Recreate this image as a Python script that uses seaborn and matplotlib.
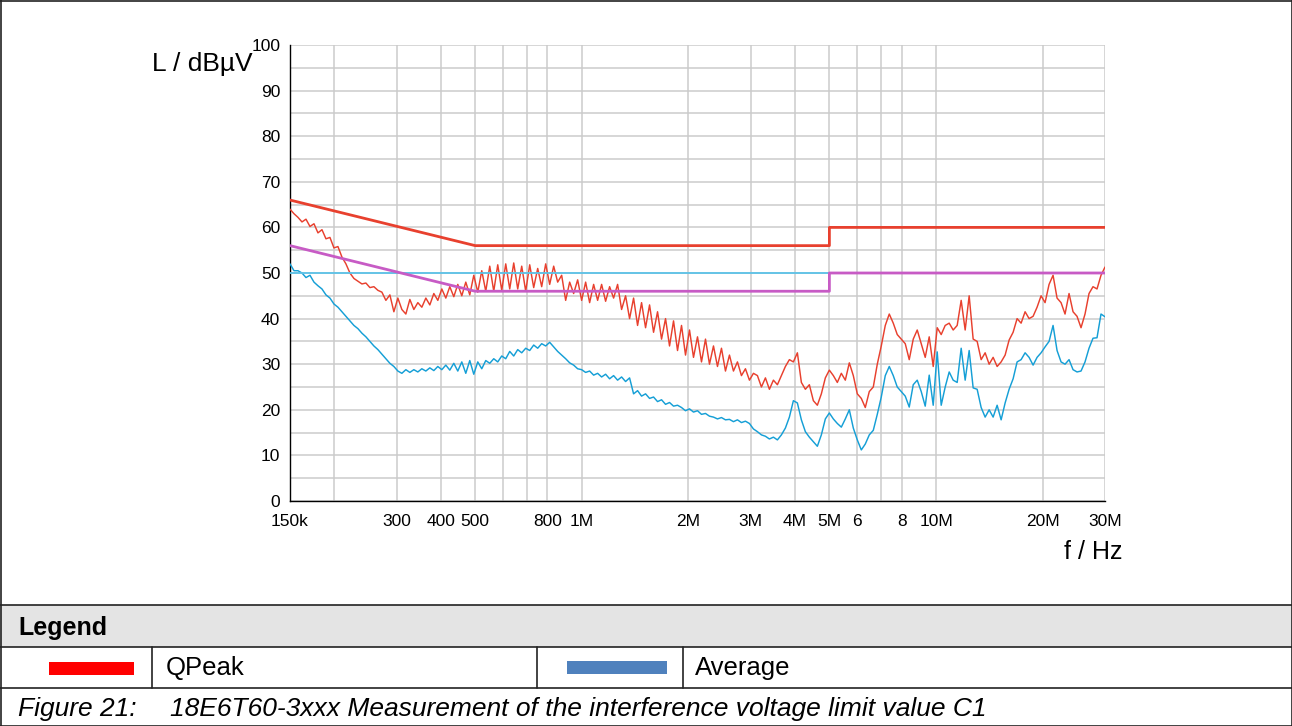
import numpy as np
import pandas as pd
import matplotlib
matplotlib.use("Agg")
import matplotlib.pyplot as plt
from matplotlib.lines import Line2D
from matplotlib.patches import Rectangle
from matplotlib.ticker import FixedLocator, MultipleLocator, NullLocator
import seaborn as sns

# ---------------------------------------------------------------------------
# Receiver sweep: 150 kHz .. 30 MHz, log-spaced measurement points
# ---------------------------------------------------------------------------
F_START_MHZ = 0.15
F_STOP_MHZ = 30.0
N_POINTS = 205

# Quasi-peak detector reading, dBuV
qpeak_dbuv = [
    64.0, 63.0, 62.2, 61.2, 61.8, 60.2, 60.8, 58.8, 59.5, 57.5,
    57.8, 55.5, 55.8, 53.5, 52.0, 50.0, 48.8, 48.2, 47.6, 47.8,
    46.8, 47.0, 46.2, 45.8, 44.0, 45.2, 41.5, 44.5, 42.0, 41.0,
    44.2, 42.0, 43.5, 42.5, 44.5, 43.0, 45.5, 44.0, 46.5, 44.5,
    47.0, 44.8, 47.5, 45.0, 48.0, 45.2, 49.5, 45.8, 50.5, 46.0,
    51.5, 46.0, 51.8, 46.2, 52.0, 46.5, 52.2, 46.5, 51.5, 46.0,
    51.8, 46.8, 51.0, 47.0, 52.0, 47.5, 51.5, 48.0, 49.5, 44.0,
    48.0, 45.5, 48.5, 44.0, 48.0, 43.5, 47.5, 44.0, 47.5, 43.8,
    47.0, 44.5, 47.5, 42.0, 45.0, 40.0, 44.5, 38.5, 43.5, 38.0,
    43.0, 37.0, 41.5, 35.5, 40.0, 34.0, 39.5, 33.0, 38.5, 32.0,
    37.5, 31.5, 36.0, 30.5, 35.5, 30.0, 34.0, 29.5, 33.5, 28.5,
    32.0, 28.5, 30.5, 27.5, 29.0, 26.5, 28.0, 27.5, 25.0, 27.0,
    24.5, 26.5, 25.5, 27.5, 29.5, 31.0, 30.5, 32.5, 26.0, 24.5,
    25.5, 22.0, 21.0, 23.5, 27.0, 28.7, 27.5, 26.0, 28.0, 26.5,
    30.3, 27.5, 23.5, 22.5, 20.5, 24.0, 25.0, 30.0, 34.0, 38.5,
    41.0, 39.0, 36.5, 35.5, 34.5, 31.0, 35.5, 37.5, 34.5, 31.5,
    36.0, 29.5, 38.0, 36.5, 38.5, 39.0, 37.5, 38.5, 44.0, 37.5,
    45.0, 35.5, 35.0, 31.0, 32.5, 30.0, 31.5, 29.5, 30.5, 32.0,
    35.3, 37.0, 40.0, 39.0, 41.5, 40.0, 40.5, 42.5, 45.0, 43.5,
    47.5, 49.5, 44.5, 43.5, 41.0, 45.5, 41.5, 40.5, 38.0, 41.0,
    45.5, 47.0, 46.5, 49.5, 51.3,
]

# Average detector reading, dBuV
average_dbuv = [
    52.0, 50.5, 50.5, 50.0, 49.0, 49.5, 48.0, 47.2, 46.5, 45.2,
    44.5, 43.2, 42.5, 41.5, 40.5, 39.5, 38.5, 37.8, 36.8, 36.0,
    35.0, 34.0, 33.2, 32.2, 31.2, 30.2, 29.5, 28.5, 28.0, 28.8,
    28.2, 28.8, 28.3, 29.0, 28.5, 29.2, 28.6, 29.5, 28.8, 29.8,
    28.7, 30.2, 28.5, 30.5, 28.0, 30.8, 27.8, 30.5, 29.0, 30.8,
    30.2, 31.2, 30.5, 31.8, 31.2, 32.8, 31.8, 33.2, 32.5, 33.5,
    33.0, 34.2, 33.5, 34.5, 34.0, 34.8, 33.8, 32.8, 32.0, 31.2,
    30.3, 29.8, 29.0, 28.8, 28.2, 28.5, 27.6, 28.0, 27.2, 27.8,
    26.8, 27.5, 26.5, 27.2, 26.2, 27.0, 23.5, 24.2, 23.0, 23.5,
    22.5, 22.8, 21.8, 22.2, 21.2, 21.6, 20.8, 21.0, 20.5, 19.8,
    20.2, 19.5, 19.8, 19.0, 19.2, 18.6, 18.4, 18.0, 18.3, 17.8,
    17.9, 17.4, 17.8, 17.2, 17.5, 17.0, 15.8, 15.2, 14.5, 14.2,
    13.6, 14.0, 13.4, 14.5, 16.0, 18.4, 22.0, 21.5, 17.8, 15.2,
    14.0, 13.0, 12.0, 14.5, 18.0, 19.3, 18.0, 17.0, 16.2, 18.0,
    20.0, 16.0, 13.4, 11.2, 12.5, 14.5, 15.5, 19.0, 22.8, 27.5,
    29.5, 27.5, 25.0, 24.0, 23.0, 20.6, 25.5, 26.5, 24.0, 20.8,
    27.6, 21.0, 32.7, 21.0, 25.0, 28.3, 26.5, 26.0, 33.5, 26.5,
    33.0, 24.8, 24.5, 20.5, 18.4, 20.0, 18.4, 21.0, 17.8, 21.5,
    24.5, 26.8, 30.5, 31.0, 32.5, 31.5, 29.8, 31.5, 32.5, 33.8,
    35.0, 38.5, 33.0, 30.5, 30.0, 31.0, 28.8, 28.3, 28.5, 30.5,
    33.5, 35.7, 35.8, 41.0, 40.4,
]

# Limit lines, frequency in MHz
limit_f_mhz = [0.15, 0.5, 5.0, 5.0, 30.0]
limit_qpeak_dbuv = [66, 56, 56, 60, 60]
limit_avg_dbuv = [56, 46, 46, 50, 50]
ref_f_mhz = [0.15, 30.0]
ref_level_dbuv = [50, 50]

xtick_mhz = [0.15, 0.2, 0.3, 0.4, 0.5, 0.6, 0.7, 0.8, 1, 2, 3, 4, 5, 6, 7, 8, 10, 20, 30]
xtick_labels = ["150k", "", "300", "400", "500", "", "", "800", "1M", "2M",
                "3M", "4M", "5M", "6", "", "8", "10M", "20M", "30M"]

legend_labels = ["QPeak", "Average"]
legend_colors = ["#ff0000", "#4f81bd"]
caption_number = "Figure 21:"
caption_text = "18E6T60-3xxx Measurement of the interference voltage limit value C1"

# ---------------------------------------------------------------------------
sns.set_style("white")
plt.rcParams["font.family"] = ["Liberation Sans", "DejaVu Sans"]
plt.rcParams["text.color"] = "black"

W, H = 1292, 726
fig = plt.figure(figsize=(W / 100, H / 100), dpi=100)


def fx(x):
    return x / W


def fy(y):
    return 1 - y / H


ax = fig.add_axes([fx(290), fy(501), fx(1105) - fx(290), fy(45) - fy(501)])
ax.set_xscale("log")

sweep = pd.DataFrame({
    "f_mhz": np.geomspace(F_START_MHZ, F_STOP_MHZ, N_POINTS),
    "qpeak": qpeak_dbuv,
    "average": average_dbuv,
})
limits = pd.DataFrame({"f_mhz": limit_f_mhz, "qp": limit_qpeak_dbuv, "av": limit_avg_dbuv})
ref = pd.DataFrame({"f_mhz": ref_f_mhz, "level": ref_level_dbuv})

sns.lineplot(data=sweep, x="f_mhz", y="average", ax=ax, color="#159fd6",
             lw=1.05, estimator=None, sort=False, zorder=3)
sns.lineplot(data=sweep, x="f_mhz", y="qpeak", ax=ax, color="#e8402e",
             lw=1.05, estimator=None, sort=False, zorder=3)
sns.lineplot(data=ref, x="f_mhz", y="level", ax=ax, color="#5cc3e8",
             lw=1.3, estimator=None, sort=False, zorder=4)
sns.lineplot(data=limits, x="f_mhz", y="av", ax=ax, color="#c75bc5",
             lw=2.0, estimator=None, sort=False, zorder=5)
sns.lineplot(data=limits, x="f_mhz", y="qp", ax=ax, color="#e8402e",
             lw=2.0, estimator=None, sort=False, zorder=5)

ax.set_xlim(F_START_MHZ, F_STOP_MHZ)
ax.set_ylim(0, 100)
ax.xaxis.set_major_locator(FixedLocator(xtick_mhz))
ax.set_xticklabels(xtick_labels)
ax.xaxis.set_minor_locator(NullLocator())
ax.yaxis.set_major_locator(MultipleLocator(10))
ax.yaxis.set_minor_locator(MultipleLocator(5))
ax.set_xlabel("")
ax.set_ylabel("")

ax.set_axisbelow(True)
ax.grid(True, which="major", axis="x", color="#cbcbcb", lw=1.1)
ax.grid(True, which="both", axis="y", color="#cbcbcb", lw=1.1)
for side in ("top", "right"):
    ax.spines[side].set_visible(False)
for side in ("left", "bottom"):
    ax.spines[side].set_color("black")
    ax.spines[side].set_linewidth(1.0)

ax.tick_params(axis="both", which="both", direction="inout", length=6,
               width=1.0, color="black", labelsize=12.5, labelcolor="black")
ax.tick_params(axis="x", pad=6)
ax.tick_params(axis="y", pad=4)

fig.text(fx(253), fy(64), "L / dBµV", ha="right", va="center", fontsize=19)
fig.text(fx(1123), fy(552), "f / Hz", ha="right", va="center", fontsize=18)

# ---------------------------------------------------------------------------
# Frame, legend table and caption
# ---------------------------------------------------------------------------
fig.add_artist(Rectangle((fx(0), fy(647)), fx(1292), fy(605) - fy(647),
                         transform=fig.transFigure, facecolor="#e4e4e4",
                         edgecolor="none", zorder=0))


def hline(y, x0=0, x1=W, lw=1.2):
    fig.add_artist(Line2D([fx(x0), fx(x1)], [fy(y), fy(y)], transform=fig.transFigure,
                          color="#222222", lw=lw))


def vline(x, y0, y1, lw=1.2):
    fig.add_artist(Line2D([fx(x), fx(x)], [fy(y0), fy(y1)], transform=fig.transFigure,
                          color="#222222", lw=lw))


hline(0.5)
hline(725.5)
vline(0.5, 0, H)
vline(1291.5, 0, H)
hline(605)
hline(647)
hline(688)
for xs in (152, 537, 683):
    vline(xs, 647, 688)

fig.text(fx(18), fy(628), "Legend", ha="left", va="center", fontsize=18, fontweight="bold")

fig.add_artist(Rectangle((fx(49), fy(675)), fx(134) - fx(49), fy(662) - fy(675),
                         transform=fig.transFigure, facecolor=legend_colors[0],
                         edgecolor="none"))
fig.add_artist(Rectangle((fx(567), fy(674)), fx(667) - fx(567), fy(661) - fy(674),
                         transform=fig.transFigure, facecolor=legend_colors[1],
                         edgecolor="none"))
fig.text(fx(166), fy(668), legend_labels[0], ha="left", va="center", fontsize=18.5)
fig.text(fx(695), fy(668), legend_labels[1], ha="left", va="center", fontsize=18.5)

fig.text(fx(18), fy(709), caption_number, ha="left", va="center", fontsize=19,
         fontstyle="italic")
fig.text(fx(170), fy(709), caption_text, ha="left", va="center", fontsize=19,
         fontstyle="italic")

fig.savefig("out.png", dpi=100)
